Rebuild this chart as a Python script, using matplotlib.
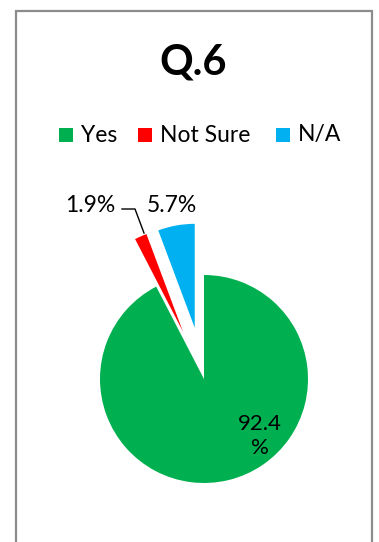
import matplotlib.pyplot as plt
from matplotlib.patches import Rectangle

plt.rcParams['font.family'] = ['Lato', 'DejaVu Sans']

categories = ['Yes', 'Not Sure', 'N/A']
values = [92.4, 1.9, 5.7]
colors = ['#00B050', '#FF0000', '#00B0F0']
explode = [0, 0.5, 0.5]

W, H = 379, 542
R = 104
fig = plt.figure(figsize=(W / 100, H / 100), dpi=100)
ax = fig.add_axes([0, 0, 1, 1])

# chart frame (runs off the bottom edge)
ax.add_patch(Rectangle((16, -10), 356, H - 11 + 10, fill=False,
                       edgecolor='#8c8c8c', lw=1.6))

# pie explode offsets are in data units, so scale by the radius
wedges, _ = ax.pie(values, colors=colors, explode=[e * R for e in explode],
                   startangle=90, counterclock=False, center=(204, H - 379),
                   radius=R, wedgeprops=dict(lw=0), frame=True)
ax.set_xlim(0, W)
ax.set_ylim(0, H)
ax.set_aspect('equal')
ax.axis('off')

ax.text(193, H - 62, 'Q.6', ha='center', va='center', fontsize=30,
        fontweight='bold')

# legend
leg_x = [59, 138, 276]
for x, lab, c in zip(leg_x, categories, colors):
    ax.add_patch(Rectangle((x, H - 142), 14, 14, color=c, lw=0))
    ax.text(x + 22, H - 135, lab, ha='left', va='center', fontsize=16.5)

# data labels
ax.text(260, H - 436, f'{values[0]}\n%', ha='center', va='center',
        fontsize=16, linespacing=1.2)
ax.text(90, H - 206, f'{values[1]}%', ha='center', va='center', fontsize=16.5)
ax.text(172, H - 206, f'{values[2]}%', ha='center', va='center', fontsize=16.5)
ax.plot([122, 135, 144], [H - 209, H - 209, H - 233], color='black', lw=1)

fig.savefig('out.png', dpi=100)
